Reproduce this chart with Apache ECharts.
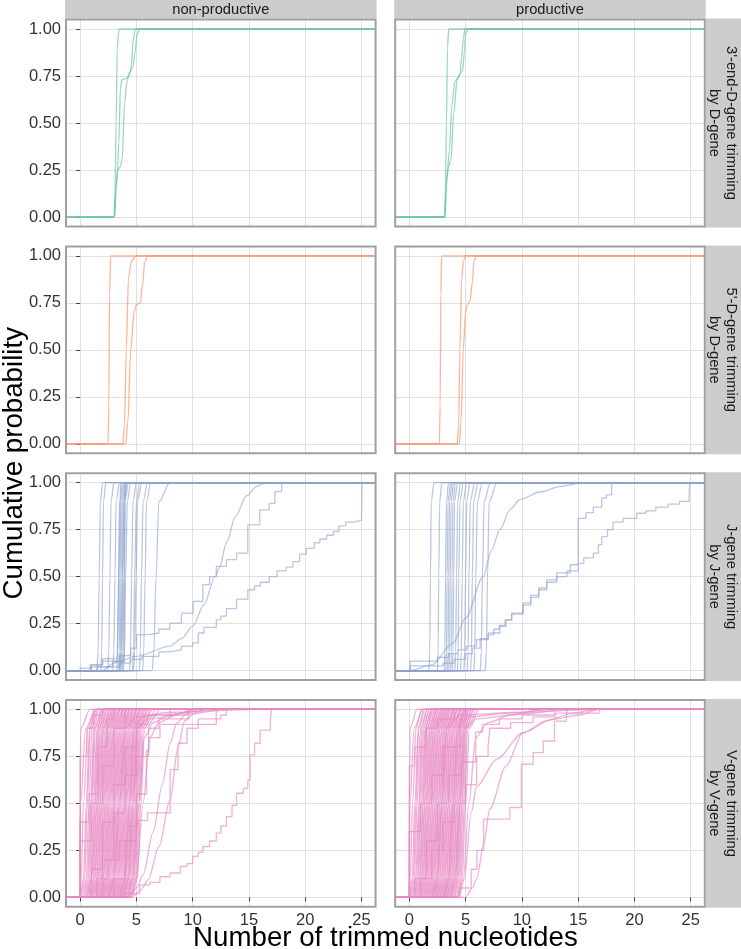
<!DOCTYPE html>
<html>
<head>
<meta charset="utf-8">
<script src="https://cdn.jsdelivr.net/npm/echarts@6/dist/echarts.min.js"></script>
<style>
html,body{margin:0;padding:0;background:#fff;}
#chart{width:741px;height:949px;}
</style>
</head>
<body>
<div id="chart"></div>
<script>
// ---------------- DATA ----------------
const xTicks = [0, 5, 10, 15, 20, 25];
const yTicks = [0, 0.25, 0.5, 0.75, 1];
const colTitles = ['non-productive', 'productive'];
const rowTitles = ["3'-end-D-gene trimming\nby D-gene", "5'-D-gene trimming\nby D-gene", "J-gene trimming\nby J-gene", "V-gene trimming\nby V-gene"];
const xTitle = 'Number of trimmed nucleotides';
const yTitle = 'Cumulative probability';
// probability levels for the quantile-style curve lists: x where each curve reaches 0, 0.1, 0.5, 0.9, 1
const quantileLevels = [0, 0.1, 0.5, 0.9, 1];

// 3'-end D-gene trimming (explicit [x, p] points, smooth)
const d3NonCurves = [
  [[3.0,0],[3.1,0.12],[3.2,0.5],[3.3,0.9],[3.45,1]],
  [[3.05,0],[3.18,0.15],[3.3,0.23],[3.45,0.4],[3.58,0.68],[3.7,0.73],[4.2,0.74],[4.4,0.76],[4.55,0.8],[4.7,0.93],[4.9,1]],
  [[3.08,0],[3.22,0.18],[3.35,0.25],[3.6,0.27],[3.75,0.32],[3.95,0.6],[4.15,0.72],[4.4,0.77],[4.7,0.8],[4.9,0.88],[5.05,0.97],[5.3,1]]
];
const d3ProdCurves = [
  [[3.12,0],[3.2,0.12],[3.3,0.5],[3.4,0.9],[3.5,1]],
  [[3.15,0],[3.28,0.15],[3.4,0.25],[3.55,0.35],[3.8,0.6],[4.05,0.72],[4.3,0.74],[4.5,0.76],[4.65,0.85],[4.8,0.95],[4.95,1]],
  [[3.18,0],[3.32,0.2],[3.5,0.27],[3.7,0.3],[3.95,0.55],[4.25,0.73],[4.5,0.76],[4.75,0.78],[4.9,0.88],[5.0,0.97],[5.2,1]]
];
// 5'-D-gene trimming
const d5NonCurves = [
  [[2.48,0],[2.55,0.2],[2.62,0.8],[2.72,1]],
  [[3.8,0],[3.95,0.1],[4.1,0.5],[4.3,0.88],[4.55,0.97],[4.95,1]],
  [[4.05,0],[4.25,0.12],[4.5,0.5],[4.8,0.7],[5.0,0.74],[5.35,0.75],[5.55,0.85],[5.75,0.97],[6.0,1]]
];
const d5ProdCurves = [
  [[2.68,0],[2.74,0.2],[2.8,0.8],[2.88,1]],
  [[4.25,0],[4.38,0.1],[4.5,0.5],[4.65,0.88],[4.8,0.97],[5.0,1]],
  [[4.45,0],[4.6,0.12],[4.8,0.5],[5.0,0.7],[5.15,0.74],[5.4,0.76],[5.6,0.86],[5.75,0.97],[5.95,1]]
];

// J-gene trimming
const jNonQuant = [
  [1.5,1.6,1.7,1.8,2.0],[1.85,1.92,2.0,2.08,2.3],[2.45,2.55,2.65,2.75,3.0],[2.9,3.0,3.1,3.2,3.5],
  [3.25,3.33,3.42,3.5,3.8],[3.4,3.48,3.55,3.65,3.9],[3.5,3.58,3.65,3.75,4.0],[3.55,3.65,3.75,3.85,4.1],
  [3.65,3.72,3.8,3.9,4.2],[3.75,3.82,3.9,4.0,4.3],[3.85,3.95,4.05,4.2,4.5],[4.4,4.48,4.58,4.7,5.0],
  [4.65,4.75,4.85,5.0,5.3],[4.75,4.85,4.98,5.1,5.5],[5.25,5.35,5.45,5.6,6.0],[5.55,5.65,5.78,5.9,6.3],
  [6.4,6.55,6.75,7.0,8.0]
];
const jNonCurves = [
  [[2.0,0],[3.0,0.04],[5.0,0.076],[8.0,0.13],[9.0,0.17],[10.0,0.235],[11.0,0.35],[12.0,0.5],[12.4,0.55],[13.0,0.68],[13.8,0.82],[14.8,0.93],[15.7,0.98],[16.5,1]]
];
const jNonSteps = [
  [[0.0,0.013],[1.0,0.03],[2.0,0.064],[3.3,0.08],[3.45,0.5],[3.6,1]],
  [[1.0,0.02],[2.9,0.05],[3.9,0.07],[4.0,1]],
  [[0.9,0.03],[2.0,0.05],[3.5,0.08],[4.5,0.12],[5.02,0.191],[6.06,0.2],[7.0,0.22],[7.98,0.253],[9.0,0.306],[10.05,0.368],[10.9,0.457],[11.5,0.5],[12.1,0.554],[13.0,0.59],[13.9,0.625],[14.9,0.775],[15.96,0.855],[16.8,0.89],[17.3,0.952],[17.9,1]],
  [[1.5,0.02],[3.5,0.04],[4.5,0.06],[5.5,0.076],[7.0,0.1],[8.0,0.11],[9.0,0.13],[10.0,0.147],[10.5,0.2],[11.0,0.23],[12.1,0.27],[12.5,0.29],[13.0,0.33],[13.9,0.38],[14.9,0.43],[15.5,0.45],[16.0,0.47],[16.8,0.5],[17.5,0.53],[18.3,0.55],[18.9,0.58],[19.5,0.62],[20.1,0.65],[20.8,0.68],[21.3,0.7],[21.9,0.72],[22.5,0.74],[23.0,0.77],[23.6,0.79],[24.3,0.8],[25.0,0.82],[25.05,1]]
];
const jProdQuant = [
  [1.75,1.82,1.88,1.95,2.2],[2.5,2.56,2.62,2.7,2.9],[3.1,3.16,3.22,3.3,3.5],[3.25,3.3,3.36,3.44,3.7],
  [3.4,3.45,3.5,3.58,3.8],[3.52,3.58,3.64,3.72,3.95],[3.68,3.74,3.8,3.88,4.1],[3.82,3.88,3.95,4.02,4.3],
  [4.05,4.12,4.2,4.3,4.55],[4.28,4.34,4.4,4.5,4.8],[4.55,4.62,4.7,4.8,5.1],[4.85,4.92,5.0,5.1,5.4],
  [5.15,5.22,5.3,5.42,5.8],[5.45,5.52,5.6,5.72,6.1],[5.75,5.82,5.9,6.05,6.5],[6.3,6.4,6.5,6.65,7.2],
  [6.75,6.85,6.95,7.1,7.8]
];
const jProdCurves = [
  [[0.0,0],[2.0,0.03],[3.9,0.147],[5.0,0.28],[6.57,0.5],[7.3,0.64],[8.05,0.75],[9.0,0.86],[9.83,0.91],[11.6,0.95],[13.5,0.98],[15.0,0.995],[16.5,1]]
];
const jProdSteps = [
  [[0.07,0.05],[2.5,0.07],[3.5,0.09],[4.3,0.11],[5.1,0.13],[5.98,0.165],[7.02,0.2],[8.05,0.235],[8.6,0.27],[9.09,0.306],[10.12,0.36],[10.8,0.4],[11.5,0.44],[12.2,0.483],[13.1,0.52],[14.3,0.563],[15.0,0.81],[15.7,0.84],[16.35,0.87],[17.1,0.917],[17.5,0.935],[17.98,1]],
  [[0.07,0.025],[3.0,0.04],[4.0,0.06],[5.0,0.09],[5.6,0.12],[6.3,0.17],[7.0,0.19],[7.5,0.22],[8.0,0.24],[8.5,0.27],[9.1,0.3],[10.1,0.35],[10.8,0.39],[11.5,0.43],[12.2,0.47],[13.1,0.5],[14.0,0.53],[15.0,0.57],[15.5,0.6],[16.35,0.625],[16.8,0.67],[17.1,0.713],[17.6,0.75],[18.1,0.79],[19.0,0.81],[20.2,0.837],[21.0,0.85],[21.9,0.87],[23.0,0.885],[24.0,0.9],[24.85,0.91],[24.9,1]]
];

// V-gene trimming
const vNonQuant = [
  [-0.02,0.0,0.02,0.05,0.9],[-0.02,0.0,0.04,0.5,1.4],[0.0,0.1,0.3,0.7,1.3],[0.0,0.3,0.55,0.85,1.4],
  [0.1,0.4,0.65,0.9,1.5],[0.2,0.55,0.8,1.05,1.6],[0.3,0.65,0.95,1.2,1.7],[0.4,0.75,1.0,1.3,2.0],
  [0.5,0.85,1.1,1.35,1.9],[0.55,0.95,1.2,1.5,2.2],[0.6,1.0,1.3,1.55,2.0],[0.7,1.05,1.35,1.65,2.4],
  [0.75,1.15,1.45,1.7,2.2],[0.8,1.2,1.5,1.8,2.5],[0.9,1.3,1.6,1.9,2.4],[0.95,1.35,1.65,1.95,2.7],
  [1.0,1.45,1.75,2.05,2.6],[1.1,1.5,1.8,2.1,2.9],[1.15,1.6,1.9,2.2,2.7],[1.2,1.65,1.95,2.3,3.0],
  [1.3,1.75,2.05,2.35,2.9],[1.35,1.8,2.1,2.45,3.2],[1.4,1.9,2.2,2.5,3.0],[1.5,1.95,2.25,2.6,3.3],
  [1.55,2.05,2.35,2.65,3.2],[1.6,2.1,2.4,2.75,3.5],[1.7,2.2,2.5,2.8,3.3],[1.75,2.25,2.55,2.9,3.6],
  [1.8,2.3,2.65,2.95,3.5],[1.9,2.4,2.7,3.05,3.8],[1.95,2.45,2.8,3.1,3.6],[2.0,2.55,2.85,3.2,3.9],
  [2.1,2.6,2.95,3.25,3.8],[2.15,2.7,3.0,3.35,4.1],[2.2,2.75,3.1,3.4,3.9],[2.3,2.85,3.15,3.5,4.2],
  [2.35,2.9,3.25,3.55,4.1],[2.4,3.0,3.3,3.65,4.4],[2.5,3.05,3.4,3.7,4.2],[2.55,3.15,3.45,3.8,4.5],
  [2.6,3.2,3.55,3.85,4.4],[2.7,3.3,3.6,3.95,4.7],[2.75,3.35,3.7,4.0,4.5],[2.8,3.45,3.75,4.1,4.8],
  [2.9,3.5,3.85,4.15,4.7],[2.95,3.6,3.9,4.25,5.0],[3.0,3.65,4.0,4.3,4.8],[3.1,3.75,4.05,4.4,5.1],
  [3.15,3.8,4.15,4.45,5.0],[3.2,3.9,4.2,4.55,5.3],[3.3,3.95,4.3,4.6,5.1],[3.35,4.05,4.35,4.7,5.4],
  [3.4,4.1,4.45,4.75,5.3],[3.5,4.2,4.5,4.85,5.6],[3.55,4.25,4.6,4.9,5.4],[3.6,4.35,4.65,5.0,5.8],
  [3.7,4.4,4.75,5.05,5.6],[3.8,4.5,4.8,5.15,6.0],[3.9,4.55,4.9,5.2,5.8],[4.0,4.65,4.95,5.3,6.2],
  [4.1,4.7,5.05,5.35,6.0],[4.2,4.8,5.1,5.45,6.5],[4.35,4.9,5.2,5.55,6.3],[4.5,5.0,5.3,5.65,6.8],
  [4.65,5.1,5.4,5.75,7.2]
];
const vNonCurves = [
  [[3.5,0],[4.0,0.1],[4.4,0.5],[4.8,0.9],[5.5,0.96],[8.0,0.975],[12.1,1]],
  [[3.8,0],[4.3,0.1],[4.7,0.5],[5.1,0.9],[6.0,0.95],[9.0,0.97],[13.0,1]],
  [[2.5,0],[3.0,0.1],[3.5,0.5],[4.0,0.9],[5.0,0.96],[8.0,0.985],[16.0,1]],
  [[4.2,0],[4.7,0.1],[5.2,0.5],[5.7,0.85],[6.5,0.93],[8.0,0.97],[10.5,1]],
  [[4.4,0],[5.0,0.1],[5.6,0.5],[6.2,0.85],[7.0,0.93],[8.5,0.97],[10.0,1]],
  [[4.6,0],[5.4,0.04],[6.05,0.094],[7.0,0.27],[8.0,0.52],[8.7,0.8],[9.3,0.94],[10.2,0.98],[11.0,1]],
  [[4.3,0],[5.0,0.05],[5.6,0.12],[6.5,0.35],[7.3,0.6],[8.0,0.82],[8.6,0.93],[9.5,0.98],[10.5,1]]
];
const vNonSteps = [
  [[0.0,0.75],[0.6,0.9],[1.2,0.97],[2.0,1]],
  [[0.0,0.4],[0.8,0.55],[1.6,0.8],[2.4,0.95],[3.0,1]],
  [[0.0,0.3],[1.0,0.5],[2.0,0.7],[3.0,0.9],[4.0,1]],
  [[1.0,0.15],[2.0,0.4],[3.0,0.6],[4.0,0.8],[5.0,0.92],[6.0,0.97],[8.0,1]],
  [[2.0,0.2],[3.0,0.45],[4.0,0.65],[5.0,0.75],[6.1,0.9],[7.0,0.95],[9.6,1]],
  [[1.5,0.1],[2.5,0.2],[3.5,0.3],[4.5,0.38],[5.1,0.41],[6.0,0.45],[8.0,0.68],[8.7,0.82],[9.5,0.9],[10.5,0.95],[12.5,0.97],[13.0,1]],
  [[3.0,0.1],[4.0,0.3],[5.0,0.55],[5.9,0.78],[6.1,0.85],[7.1,0.92],[12.1,1]],
  [[4.0,0.02],[5.3,0.067],[6.2,0.08],[7.1,0.11],[8.0,0.13],[8.9,0.165],[9.5,0.18],[10.0,0.218],[10.5,0.24],[10.9,0.271],[11.5,0.3],[12.1,0.342],[12.5,0.38],[13.0,0.43],[13.5,0.49],[13.9,0.554],[14.5,0.58],[14.9,0.625],[15.1,0.758],[15.5,0.82],[16.0,0.89],[16.9,0.935],[17.0,1]]
];
const vProdQuant = [
  [-0.02,0.0,0.02,0.06,0.7],[-0.02,0.0,0.05,0.45,1.2],[0.0,0.08,0.3,0.6,1.1],[0.0,0.25,0.5,0.8,1.3],
  [0.05,0.35,0.6,0.85,1.4],[0.15,0.45,0.7,1.0,1.6],[0.25,0.55,0.85,1.1,1.6],[0.3,0.65,0.9,1.2,1.8],
  [0.4,0.75,1.0,1.3,1.8],[0.45,0.8,1.1,1.4,2.0],[0.55,0.9,1.2,1.45,2.0],[0.6,0.95,1.25,1.55,2.2],
  [0.7,1.05,1.35,1.6,2.1],[0.75,1.1,1.4,1.7,2.4],[0.85,1.2,1.5,1.8,2.3],[0.9,1.25,1.55,1.85,2.5],
  [1.0,1.35,1.65,1.95,2.5],[1.05,1.4,1.7,2.0,2.7],[1.1,1.5,1.8,2.1,2.6],[1.2,1.55,1.85,2.15,2.9],
  [1.25,1.65,1.95,2.25,2.8],[1.3,1.7,2.0,2.3,3.0],[1.4,1.8,2.1,2.4,3.0],[1.45,1.85,2.15,2.45,3.2],
  [1.5,1.95,2.25,2.55,3.1],[1.6,2.0,2.3,2.6,3.3],[1.65,2.1,2.4,2.7,3.3],[1.7,2.15,2.45,2.75,3.5],
  [1.8,2.25,2.55,2.85,3.4],[1.85,2.3,2.6,2.9,3.6],[1.9,2.4,2.7,3.0,3.6],[2.0,2.45,2.75,3.05,3.8],
  [2.05,2.55,2.85,3.15,3.7],[2.1,2.6,2.9,3.2,4.0],[2.2,2.7,3.0,3.3,3.9],[2.25,2.75,3.05,3.35,4.1],
  [2.3,2.85,3.15,3.45,4.0],[2.4,2.9,3.2,3.5,4.3],[2.45,3.0,3.3,3.6,4.2],[2.5,3.05,3.35,3.65,4.4],
  [2.6,3.15,3.45,3.75,4.3],[2.65,3.2,3.5,3.8,4.6],[2.7,3.3,3.6,3.9,4.5],[2.8,3.35,3.65,3.95,4.7],
  [2.85,3.45,3.75,4.05,4.6],[2.9,3.5,3.8,4.1,4.9],[3.0,3.6,3.9,4.2,4.8],[3.05,3.65,3.95,4.25,5.0],
  [3.1,3.75,4.05,4.35,4.9],[3.2,3.8,4.1,4.4,5.1],[3.25,3.9,4.2,4.5,5.0],[3.3,3.95,4.25,4.55,5.2],
  [3.4,4.05,4.35,4.65,5.2],[3.5,4.1,4.4,4.7,5.4],[3.6,4.2,4.5,4.8,5.3],[3.7,4.25,4.55,4.85,5.6],
  [3.8,4.35,4.65,4.95,5.5],[3.9,4.4,4.7,5.0,5.8],[4.0,4.5,4.8,5.1,5.7],[4.15,4.6,4.9,5.2,6.0],
  [4.3,4.7,5.0,5.35,6.2]
];
const vProdCurves = [
  [[3.0,0],[3.5,0.1],[3.9,0.5],[4.3,0.9],[5.2,0.96],[9.0,0.98],[12.9,1]],
  [[3.6,0],[4.1,0.1],[4.5,0.5],[4.9,0.9],[6.0,0.95],[10.0,0.975],[13.95,1]],
  [[2.0,0],[2.5,0.1],[2.9,0.5],[3.3,0.9],[4.5,0.97],[10.0,0.985],[16.9,1]],
  [[4.2,0],[4.8,0.1],[5.3,0.5],[5.9,0.85],[7.0,0.93],[9.0,0.97],[12.0,1]],
  [[5.0,0],[5.6,0.05],[6.0,0.1],[6.6,0.28],[7.15,0.47],[8.6,0.7],[10.1,0.876],[12.2,0.94],[14.5,0.98],[16.9,1]],
  [[4.4,0],[4.9,0.1],[5.5,0.45],[5.98,0.59],[7.77,0.735],[10.1,0.876],[12.7,0.947],[15.1,0.97],[16.9,1]]
];
const vProdSteps = [
  [[4.5,0.05],[5.5,0.15],[6.0,0.25],[6.6,0.416],[8.93,0.478],[9.96,0.708],[11.0,0.77],[11.9,0.832],[12.9,0.938],[13.95,0.98],[16.9,1]],
  [[1.0,0.1],[2.0,0.25],[3.0,0.4],[4.0,0.5],[5.0,0.6],[5.98,0.75],[7.0,0.8],[7.15,0.9],[9.0,0.93],[11.0,0.96],[13.0,0.98],[14.0,1]],
  [[0.5,0.1],[1.5,0.3],[2.5,0.5],[3.5,0.65],[4.6,0.72],[5.9,0.88],[6.5,0.92],[8.0,0.95],[10.0,0.97],[12.9,1]],
  [[0.0,0.7],[0.5,0.8],[1.5,0.9],[2.5,0.95],[4.0,1]],
  [[0.0,0.35],[1.0,0.5],[2.0,0.65],[3.0,0.8],[4.5,0.95],[5.0,1]]
];

// ---------------- LAYOUT / STYLE ----------------
const X_MIN = -1.25, X_MAX = 26.25, Y_MIN = -0.05, Y_MAX = 1.05;
const rowTop = [19.6, 246.4, 473.2, 700.0];
const rowH = 206.8;
const colLeft = [66.0, 395.2];
const colW = 309.6;
const FONT = '"Liberation Sans", Arial, Helvetica, sans-serif';
const palette = ['#66C2A5', '#FC8D62', '#8DA0CB', '#E78AC3'];
const rowOpacity = [0.65, 0.65, 0.6, 0.65];
const rowWidth = [1.3, 1.3, 1.3, 1.35];

const panelData = [
  [{curves: d3NonCurves}, {curves: d3ProdCurves}],
  [{curves: d5NonCurves}, {curves: d5ProdCurves}],
  [{quant: jNonQuant, curves: jNonCurves, steps: jNonSteps}, {quant: jProdQuant, curves: jProdCurves, steps: jProdSteps}],
  [{quant: vNonQuant, curves: vNonCurves, steps: vNonSteps}, {quant: vProdQuant, curves: vProdCurves, steps: vProdSteps}]
];

const grids = [], xAxes = [], yAxes = [], series = [];
for (let r = 0; r < 4; r++) {
  for (let c = 0; c < 2; c++) {
    const gi = grids.length;
    grids.push({left: colLeft[c], top: rowTop[r], width: colW, height: rowH, show: true,
      backgroundColor: '#ffffff', borderWidth: 0, containLabel: false});
    xAxes.push({type: 'value', gridIndex: gi, min: X_MIN, max: X_MAX,
      axisLine: {show: false},
      axisTick: {show: r === 3, customValues: xTicks, length: 4, lineStyle: {color: '#444', width: 1}},
      axisLabel: {show: r === 3, customValues: xTicks, fontSize: 16.5, fontFamily: FONT, color: '#333', margin: 5},
      splitLine: {show: true, lineStyle: {color: '#e0e0e0', width: 1}}
    });
    yAxes.push({type: 'value', gridIndex: gi, min: Y_MIN, max: Y_MAX,
      axisLine: {show: false},
      axisTick: {show: c === 0, customValues: yTicks, length: 4, lineStyle: {color: '#444', width: 1}},
      axisLabel: {show: c === 0, customValues: yTicks, fontSize: 16.5, fontFamily: FONT, color: '#333', margin: 5,
        formatter: v => Number(v).toFixed(2)},
      splitLine: {show: true, lineStyle: {color: '#e0e0e0', width: 1}}
    });
    const pd = panelData[r][c];
    const baseStyle = {color: palette[r], width: rowWidth[r], opacity: rowOpacity[r]};
    const mk = (data, opts) => Object.assign({type: 'line', xAxisIndex: gi, yAxisIndex: gi, data,
      symbol: 'none', showSymbol: false, silent: true, animation: false, lineStyle: baseStyle, z: 2}, opts);
    (pd.quant || []).forEach(q => {
      const pts = [[X_MIN, 0]].concat(q.map((x, i) => [x, quantileLevels[i]])).concat([[X_MAX, 1]]);
      series.push(mk(pts, {smooth: 0.35, smoothMonotone: 'x'}));
    });
    (pd.curves || []).forEach(cv => {
      const pts = [[X_MIN, 0]].concat(cv).concat([[X_MAX, 1]]);
      series.push(mk(pts, {smooth: 0.3, smoothMonotone: 'x'}));
    });
    (pd.steps || []).forEach(st => {
      const pts = [[X_MIN, 0]].concat(st).concat([[X_MAX, 1]]);
      series.push(mk(pts, {step: 'end'}));
    });
  }
}

const graphic = [];
for (let c = 0; c < 2; c++) {
  graphic.push({type: 'rect', shape: {x: colLeft[c] - 1, y: -1, width: colW + 2, height: rowTop[0]}, style: {fill: '#cccccc'}, z: 50});
  graphic.push({type: 'text', x: colLeft[c] + colW / 2, y: 10, z: 51,
    style: {text: colTitles[c], fontSize: 14.7, fontFamily: FONT, fill: '#1a1a1a', align: 'center', verticalAlign: 'middle'}});
}
for (let r = 0; r < 4; r++) {
  graphic.push({type: 'rect', shape: {x: colLeft[1] + colW + 1, y: rowTop[r] - 1, width: 40, height: rowH + 2}, style: {fill: '#cccccc'}, z: 50});
  graphic.push({type: 'text', x: 722.5, y: rowTop[r] + rowH / 2, rotation: -Math.PI / 2, z: 51,
    style: {text: rowTitles[r], fontSize: 14.7, fontFamily: FONT, fill: '#1a1a1a', align: 'center', verticalAlign: 'middle', lineHeight: 17.5}});
}
for (let r = 0; r < 4; r++) for (let c = 0; c < 2; c++) {
  graphic.push({type: 'rect', shape: {x: colLeft[c], y: rowTop[r], width: colW, height: rowH},
    style: {fill: 'none', stroke: '#a0a0a0', lineWidth: 2}, z: 100});
}
graphic.push({type: 'text', x: (colLeft[0] + colLeft[1] + colW) / 2, y: 938, z: 60,
  style: {text: xTitle, fontSize: 27.7, fontFamily: FONT, fill: '#000', align: 'center', verticalAlign: 'middle'}});
graphic.push({type: 'text', x: 14, y: (rowTop[0] + rowTop[3] + rowH) / 2, rotation: Math.PI / 2, z: 60,
  style: {text: yTitle, fontSize: 27.7, fontFamily: FONT, fill: '#000', align: 'center', verticalAlign: 'middle'}});

const chart = echarts.init(document.getElementById('chart'), null, {renderer: 'canvas'});
chart.setOption({
  backgroundColor: '#ffffff',
  animation: false,
  grid: grids, xAxis: xAxes, yAxis: yAxes, series: series, graphic: graphic
});
</script>
</body>
</html>
